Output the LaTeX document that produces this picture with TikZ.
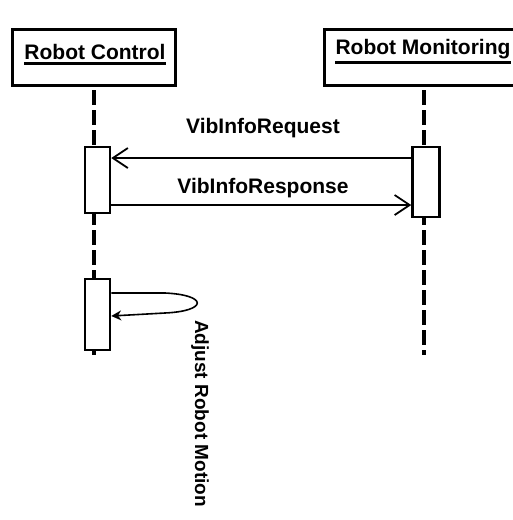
\documentclass[tikz,border=0pt]{standalone}
\usepackage{fontspec}
\setmainfont{Liberation Sans}
\usetikzlibrary{arrows.meta}
\begin{document}
\begin{tikzpicture}[x=1pt,y=-1pt,
  lbl/.style={font=\fontsize{21}{23}\selectfont\bfseries, inner sep=0pt},
  objbox/.style={draw, line width=3pt, fill=white},
  act/.style={draw, line width=2.5pt, fill=white},
  life/.style={line width=4pt, dash pattern=on 15pt off 5pt},
  msg/.style={line width=1.6pt},
  openhead/.style={-{Straight Barb[length=15pt,width=20pt,line width=1.8pt]}}
]
\useasboundingbox (0,0) rectangle (513,520);
% lifelines
\coordinate (c1) at (94,90);
\coordinate (c2) at (94,355);
\coordinate (m1) at (424,90);
\coordinate (m2) at (424,355);
\draw[life] (c1) -- (c2);
\draw[life] (m1) -- (m2);
% object boxes
\node[objbox, minimum width=163pt, minimum height=56pt] (rc) at (93.5,57.5) {};
\node[objbox, minimum width=192pt, minimum height=56pt, anchor=west] (rm) at (323,57.5) {};
\node[lbl] (rct) at (95,52) {Robot Control};
\node[lbl] (rmt) at (423,49) {Robot Monitoring};
\draw[line width=2.5pt] ([yshift=-3.5pt]rct.south west) -- ([yshift=-3.5pt]rct.south east);
\draw[line width=2.5pt] ([yshift=-3.5pt]rmt.south west) -- ([yshift=-3.5pt]rmt.south east);
% activations
\node[act, minimum width=25pt, minimum height=66pt, inner sep=0pt] (a1) at (97.5,180) {};
\node[act, minimum width=27pt, minimum height=70pt, inner sep=0pt] (a2) at (426,182) {};
\node[act, minimum width=25pt, minimum height=71pt, inner sep=0pt] (a3) at (97.5,314.5) {};
% messages
\coordinate (rq1) at (a2.west |- 0,158);
\coordinate (rq2) at (a1.east |- 0,158);
\draw[msg, openhead] (rq1) -- (rq2);
\node[lbl] (rql) at (263,128) {VibInfoRequest};
\coordinate (rs1) at (a1.east |- 0,205);
\coordinate (rs2) at (a2.west |- 0,205);
\draw[msg, openhead] (rs1) -- (rs2);
\node[lbl] (rsl) at (263,188) {VibInfoResponse};
% self message
\coordinate (s1) at (a3.east |- 0,293);
\coordinate (s2) at (a3.east |- 0,316);
\draw[msg, -{Stealth[length=10pt,width=10pt]}] (s1) -- (165,293) .. controls (208,295) and (208,311) .. (165,313) -- (s2);
\node[lbl, font=\fontsize{19}{21}\selectfont\bfseries, rotate=-90, anchor=west] (sl) at (200,320) {Adjust Robot Motion};
\end{tikzpicture}
\end{document}
